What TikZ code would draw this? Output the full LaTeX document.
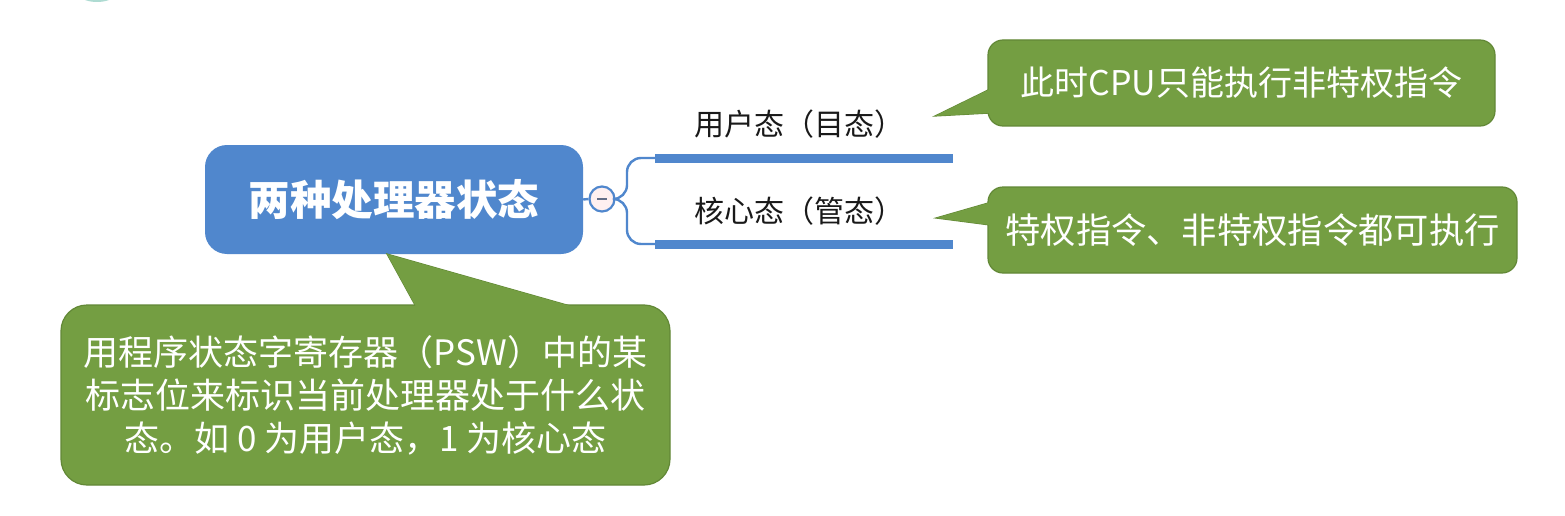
\documentclass[tikz,border=0pt]{standalone}
\usepackage{fontspec}
\setmainfont{Noto Sans CJK SC}
\definecolor{mmblue}{RGB}{80,135,205}
\definecolor{cgreen}{RGB}{116,158,66}
\definecolor{cgreenb}{RGB}{98,136,54}
\definecolor{labtext}{RGB}{25,25,25}
\definecolor{minuscol}{RGB}{100,110,135}
\definecolor{tealarc}{RGB}{120,195,180}
\begin{document}
\begin{tikzpicture}[x=1pt,y=-1pt,
  callbox/.style={fill=cgreen, draw=cgreenb, line width=1.2pt, rounded corners=15pt, inner sep=0pt, text=white, align=center},
  ptr/.style={fill=cgreen, draw=cgreenb, line width=1.2pt, line join=miter},
  ptrfill/.style={fill=cgreen},
  branch/.style={draw=mmblue, line width=2.4pt, rounded corners=14pt},
  bar/.style={draw=mmblue, line width=9pt},
  lab/.style={inner sep=0pt, text=labtext, font=\fontsize{30}{35}\selectfont}]
\useasboundingbox (0,0) rectangle (1565,516);
\fill[white] (0,0) rectangle (1565,516);
% faint cropped element at the top-left
\begin{scope}
  \clip (0,0) rectangle (1565,516);
  \fill[tealarc!60] (97,-22) ellipse [x radius=30, y radius=24];
\end{scope}

% root
\node[fill=mmblue, rounded corners=22pt, minimum width=378pt, minimum height=109pt, inner sep=0pt,
      text=white, font=\fontsize{41.5}{47}\selectfont\bfseries] (root) at (394,199.5) {两种处理器状态};

% collapse button
\node[circle, draw=mmblue, line width=2.2pt, fill=white!94!red, minimum size=25pt, inner sep=0pt] (col) at (602,199)
  {\textcolor{minuscol}{\rule{10pt}{2.5pt}}};
\draw[mmblue, line width=2.4pt] (root.east) -- (col.west);

% branches
\coordinate (b1s) at (655,158);
\coordinate (b1e) at (953,158);
\coordinate (b2s) at (655,244);
\coordinate (b2e) at (953,244);
\draw[branch] (col.east) -- (627,199) |- (b1s);
\draw[branch] (col.east) -- (627,199) |- (b2s);
\draw[bar] (b1s) -- (b1e);
\draw[bar] (b2s) -- (b2e);

\node[lab] (u) at (799,124) {用户态（目态）};
\node[lab] (k) at (799,211) {核心态（管态）};

% callout 1
\draw[ptr] (994,87.1) -- (935,116) -- (996,112.7) -- cycle;
\node[callbox, minimum width=507pt, minimum height=86pt, font=\fontsize{34}{40}\selectfont] (c1) at (1241.5,83) {此时CPU只能执行非特权指令};
\fill[ptrfill] (994,87.1) -- (935,116) -- (996,112.7) -- cycle;

% callout 2
\draw[ptr] (994,201.3) -- (936,218) -- (996,225.8) -- cycle;
\node[callbox, minimum width=529pt, minimum height=86pt, font=\fontsize{35.3}{41}\selectfont] (c2) at (1252.5,230) {特权指令、非特权指令都可执行};
\fill[ptrfill] (994,201.3) -- (936,218) -- (996,225.8) -- cycle;

% callout 3
\draw[ptr] (387,254) -- (417.2,309) -- (581,309) -- cycle;
\node[callbox, rounded corners=26pt, minimum width=609pt, minimum height=180pt, font=\fontsize{35}{43}\selectfont] (c3) at (365.5,395)
  {用程序状态字寄存器（PSW）中的某\\标志位来标识当前处理器处于什么状\\态。如 0 为用户态，1 为核心态};
\fill[ptrfill] (387,254) -- (417.2,309) -- (581,309) -- cycle;
\end{tikzpicture}
\end{document}
